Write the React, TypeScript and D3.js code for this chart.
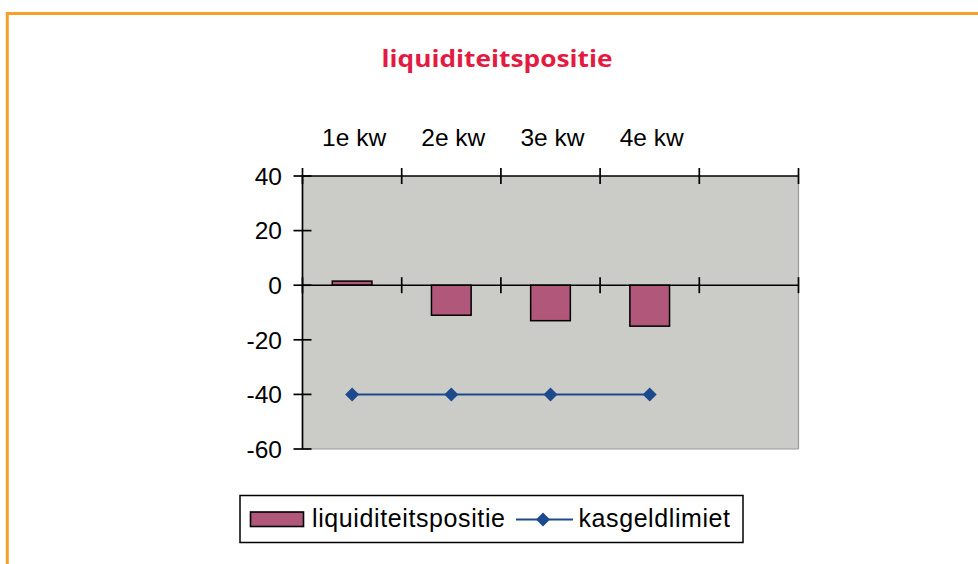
import React from "react";
import * as d3 from "d3";

const categories = ["1e kw", "2e kw", "3e kw", "4e kw", ""];
const liquiditeitspositie = [1.5, -11, -13, -15];
const kasgeldlimiet = [-40, -40, -40, -40];
const yTicks = [40, 20, 0, -20, -40, -60];
const title = "liquiditeitspositie";
const seriesNames = ["liquiditeitspositie", "kasgeldlimiet"];

const W = 978;
const H = 564;
const plot = { left: 302.5, right: 798.5, top: 176, bottom: 449 };
const barColor = "#b0577a";
const lineColor = "#1c4a8c";
const bg = "#cbccc7";
const font = "'Liberation Sans', Arial, sans-serif";

export default function App() {
  const x = d3
    .scaleBand<string>()
    .domain(categories.map((_, i) => String(i)))
    .range([plot.left, plot.right])
    .paddingInner(0)
    .paddingOuter(0);
  const y = d3.scaleLinear().domain([-60, 40]).range([plot.bottom, plot.top]);
  const step = x.step();
  const barW = step * 0.4;
  const cx = (i: number) => (x(String(i)) as number) + step / 2;
  const boundaries = d3.range(categories.length + 1).map((i) => plot.left + i * step);
  const y0 = y(0);

  const line = d3
    .line<number>()
    .x((_, i) => cx(i))
    .y((d) => y(d));

  const diamond = (px: number, py: number, r: number) =>
    `M${px},${py - r}L${px + r},${py}L${px},${py + r}L${px - r},${py}Z`;

  return (
    <svg
      width={W}
      height={H}
      style={{ position: "absolute", left: 0, top: 0, background: "#fff" }}
    >
      {/* orange frame */}
      <rect x={7.3} y={13.5} width={W + 20} height={H + 20} fill="none" stroke="#f6a02b" strokeWidth={3} />

      {/* title */}
      <text
        x={497}
        y={67}
        textAnchor="middle"
        fill="#e31b43"
        fontFamily="'Open Sans', 'Noto Sans', sans-serif"
        fontWeight={700}
        fontSize={23}
        textLength={231}
        lengthAdjust="spacingAndGlyphs"
      >
        {title}
      </text>

      {/* plot area */}
      <rect x={plot.left} y={plot.top} width={plot.right - plot.left} height={plot.bottom - plot.top} fill={bg} />
      <line x1={plot.right} x2={plot.right} y1={plot.top} y2={plot.bottom} stroke="#9a9a9a" strokeWidth={1.2} />
      <line x1={plot.left} x2={plot.right} y1={plot.bottom} y2={plot.bottom} stroke="#9a9a9a" strokeWidth={1.2} />

      {/* bars */}
      {liquiditeitspositie.map((v, i) => (
        <rect
          key={i}
          x={cx(i) - barW / 2}
          y={Math.min(y(v), y0)}
          width={barW}
          height={Math.abs(y(v) - y0)}
          fill={barColor}
          stroke="#000"
          strokeWidth={1.5}
        />
      ))}

      {/* top axis line */}
      <line x1={plot.left} x2={plot.right} y1={plot.top} y2={plot.top} stroke="#000" strokeWidth={1.5} />
      {/* zero line */}
      <line x1={plot.left} x2={plot.right} y1={y0} y2={y0} stroke="#000" strokeWidth={1.5} />
      {boundaries.map((bx, i) => (
        <g key={i}>
          <line x1={bx} x2={bx} y1={plot.top - 8} y2={plot.top + 8} stroke="#000" strokeWidth={1.7} />
          <line x1={bx} x2={bx} y1={y0 - 8} y2={y0 + 8} stroke="#000" strokeWidth={1.7} />
        </g>
      ))}

      {/* y axis */}
      <line x1={plot.left} x2={plot.left} y1={plot.top} y2={plot.bottom} stroke="#000" strokeWidth={1.7} />
      {yTicks.map((t) => (
        <g key={t}>
          <line x1={plot.left - 9} x2={plot.left + 9} y1={y(t)} y2={y(t)} stroke="#000" strokeWidth={1.7} />
          <text
            x={282}
            y={y(t)}
            dy="0.36em"
            textAnchor="end"
            fontFamily={font}
            fontSize={24.5}
            fill="#000"
          >
            {t}
          </text>
        </g>
      ))}

      {/* category labels */}
      {categories.map((c, i) =>
        c ? (
          <text key={i} x={cx(i) + 2} y={146} textAnchor="middle" fontFamily={font} fontSize={24.5} fill="#000">
            {c}
          </text>
        ) : null
      )}

      {/* line series */}
      <path d={line(kasgeldlimiet) || ""} fill="none" stroke={lineColor} strokeWidth={2} />
      {kasgeldlimiet.map((v, i) => (
        <path key={i} d={diamond(cx(i), y(v), 7)} fill={lineColor} />
      ))}

      {/* legend */}
      <rect x={240} y={495.5} width={503} height={47} fill="#fff" stroke="#000" strokeWidth={1.5} />
      <rect x={250.5} y={512} width={53} height={14.5} fill={barColor} stroke="#000" strokeWidth={1.6} />
      <text x={312} y={527} fontFamily={font} fontSize={25} fill="#000" textLength={193} lengthAdjust="spacing">
        {seriesNames[0]}
      </text>
      <line x1={516} x2={573} y1={519.5} y2={519.5} stroke={lineColor} strokeWidth={2} />
      <path d={diamond(543, 519.5, 7)} fill={lineColor} />
      <text x={578.5} y={527} fontFamily={font} fontSize={25} fill="#000" textLength={151.5} lengthAdjust="spacing">
        {seriesNames[1]}
      </text>
    </svg>
  );
}
